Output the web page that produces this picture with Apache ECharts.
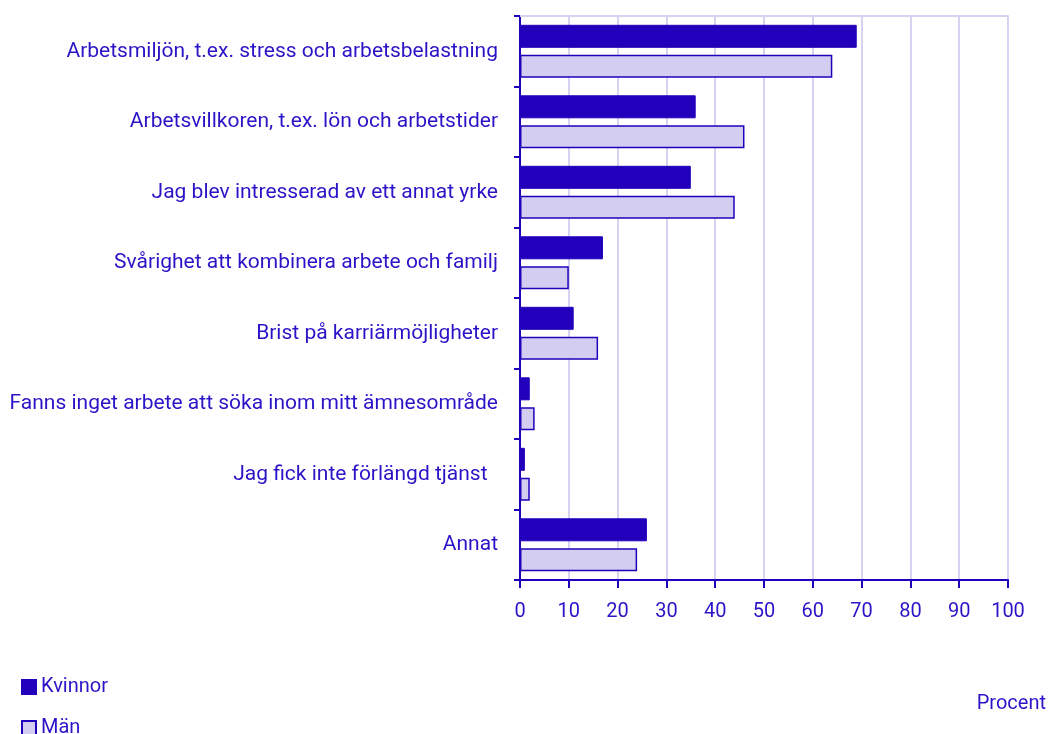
<!DOCTYPE html>
<html>
<head>
<meta charset="utf-8">
<script src="https://cdn.jsdelivr.net/npm/echarts@6/dist/echarts.min.js"></script>
<style>
  html, body { margin: 0; padding: 0; background: #fff; }
  #chart { width: 1048px; height: 734px; }
</style>
</head>
<body>
<div id="chart"></div>
<script>
const categories = [
  'Arbetsmiljön, t.ex. stress och arbetsbelastning',
  'Arbetsvillkoren, t.ex. lön och arbetstider',
  'Jag blev intresserad av ett annat yrke',
  'Svårighet att kombinera arbete och familj',
  'Brist på karriärmöjligheter',
  'Fanns inget arbete att söka inom mitt ämnesområde',
  'Jag fick inte förlängd tjänst  ',
  'Annat'
]
const kvinnor = [69, 36, 35, 17, 11, 2, 1, 26]
const man = [64, 46, 44, 10, 16, 3, 2, 24]
const xTicks = { min: 0, max: 100, interval: 10 }

const ink = '#2200bb'
const textColor = '#2a14c8'
const grid = '#d6d3f2'
const font = 'Roboto'
const fs = 21

const legendItem = (name, top) => ({
  left: 16,
  top: top,
  itemWidth: 14,
  itemHeight: 14,
  icon: 'rect',
  textStyle: { color: textColor, fontSize: 20, fontFamily: font },
  data: [name]
})

const chart = echarts.init(document.getElementById('chart'))
chart.setOption({
  animation: false,
  textStyle: { fontFamily: font },
  grid: { left: 520, right: 40, top: 16, bottom: 154 },
  legend: [legendItem('Kvinnor', 672), legendItem('Män', 713)],
  title: {
    text: 'Procent',
    right: 2,
    top: 694,
    padding: 0,
    textStyle: { color: textColor, fontSize: 20, fontWeight: 'normal', fontFamily: font }
  },
  xAxis: [{
    type: 'value',
    min: xTicks.min,
    max: xTicks.max,
    interval: xTicks.interval,
    axisLine: { show: true, lineStyle: { color: ink, width: 2 } },
    axisTick: { show: true, length: 8, lineStyle: { color: ink, width: 2 } },
    axisLabel: { color: textColor, fontSize: 20, margin: 22, fontFamily: font },
    splitLine: { show: true, lineStyle: { color: grid, width: 2 } }
  }, {
    type: 'value',
    position: 'top',
    min: xTicks.min,
    max: xTicks.max,
    interval: xTicks.interval,
    axisLine: { show: true, lineStyle: { color: grid, width: 2 } },
    axisTick: { show: false },
    axisLabel: { show: false },
    splitLine: { show: false }
  }],
  yAxis: {
    type: 'category',
    inverse: true,
    data: categories,
    axisLine: { show: true, lineStyle: { color: ink, width: 2 } },
    axisTick: { show: true, length: 6, lineStyle: { color: ink, width: 2 } },
    axisLabel: { color: textColor, fontSize: fs, margin: 22, fontFamily: font },
    splitLine: { show: false }
  },
  series: [{
    name: 'Kvinnor',
    type: 'bar',
    data: kvinnor,
    barWidth: 23,
    barGap: '30%',
    itemStyle: { color: ink, borderColor: ink, borderWidth: 1 }
  }, {
    name: 'Män',
    type: 'bar',
    data: man,
    barWidth: 23,
    itemStyle: { color: '#d3cef1', borderColor: ink, borderWidth: 1.5 }
  }]
})
</script>
</body>
</html>
